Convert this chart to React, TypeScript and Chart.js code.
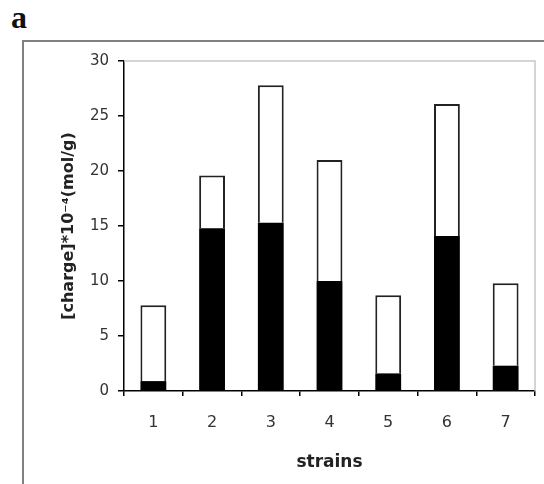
import React, { useEffect, useRef } from "react";
import { Chart, registerables } from "chart.js";

Chart.register(...registerables);

const categories = ["1", "2", "3", "4", "5", "6", "7"];
const blackPart = [0.9, 14.8, 15.3, 10.0, 1.6, 14.1, 2.3];
const whitePart = [6.9, 4.8, 12.5, 11.0, 7.1, 12.0, 7.5];
const yMin = 0;
const yMax = 30;
const yStep = 5;
const xTitle = "strains";
const yTitle = "[charge]*10⁻⁴(mol/g)";

const W = 544;
const H = 484;
const AREA = { left: 124, right: 535, top: 61, bottom: 391 };
const FONT = "'DejaVu Sans', Verdana, sans-serif";

const framePlugin = {
  id: "frameBox",
  beforeDatasetsDraw(chart: any) {
    const { ctx, chartArea } = chart;
    ctx.save();
    ctx.strokeStyle = "#c8c8c8";
    ctx.lineWidth = 1.5;
    ctx.beginPath();
    ctx.moveTo(chartArea.left, chartArea.top);
    ctx.lineTo(chartArea.right, chartArea.top);
    ctx.lineTo(chartArea.right, chartArea.bottom);
    ctx.stroke();
    ctx.restore();
  },
};

export default function App() {
  const ref = useRef<HTMLCanvasElement>(null);
  useEffect(() => {
    document.body.style.margin = "0";
    const chart = new Chart(ref.current!, {
      type: "bar",
      data: {
        labels: categories,
        datasets: [
          {
            data: blackPart,
            backgroundColor: "#000",
            borderColor: "#000",
            borderWidth: 0,
          },
          {
            data: whitePart,
            backgroundColor: "#fff",
            borderColor: "#222",
            borderWidth: 2,
          },
        ],
      },
      options: {
        animation: false,
        responsive: false,
        maintainAspectRatio: false,
        layout: { padding: { left: 0, top: AREA.top, right: W - AREA.right, bottom: 0 } },
        plugins: { legend: { display: false }, tooltip: { enabled: false } },
        datasets: { bar: { categoryPercentage: 1, barPercentage: 0.44 } },
        scales: {
          x: {
            stacked: true,
            afterFit: (s: any) => {
              s.height = H - AREA.bottom;
            },
            border: { display: true, color: "#000", width: 1.5 },
            grid: {
              offset: true,
              drawOnChartArea: false,
              drawTicks: true,
              tickLength: 5,
              color: "#000",
              lineWidth: 1.5,
            },
            ticks: {
              padding: 17,
              color: "#333",
              font: { family: FONT, size: 16 },
              maxRotation: 0,
            },
            title: {
              display: true,
              text: xTitle,
              color: "#222",
              font: { family: FONT, size: 17, weight: "bold" },
              padding: { top: 0, bottom: 11 },
            },
          },
          y: {
            stacked: true,
            min: yMin,
            max: yMax,
            afterFit: (s: any) => {
              s.width = AREA.left;
            },
            border: { display: true, color: "#000", width: 1.5 },
            grid: {
              drawOnChartArea: false,
              drawTicks: true,
              tickLength: 6,
              color: "#000",
              lineWidth: 1.5,
            },
            ticks: {
              stepSize: yStep,
              padding: 9,
              color: "#333",
              font: { family: FONT, size: 15 },
            },
            title: {
              display: true,
              text: yTitle,
              color: "#222",
              font: { family: FONT, size: 16, weight: "bold" },
              padding: { top: 59, bottom: 0 },
            },
          },
        },
      },
      plugins: [framePlugin],
    });
    return () => chart.destroy();
  }, []);

  return (
    <div style={{ position: "relative", width: W, height: H, background: "#fff", overflow: "hidden" }}>
      <div
        style={{
          position: "absolute",
          left: 11,
          top: -3,
          fontFamily: "'Liberation Serif', 'Times New Roman', serif",
          fontWeight: "bold",
          fontSize: 32,
          color: "#111",
          lineHeight: "40px",
        }}
      >
        a
      </div>
      <div
        style={{
          position: "absolute",
          left: 22,
          top: 40,
          width: W,
          height: H,
          borderLeft: "2px solid #808080",
          borderTop: "2px solid #808080",
        }}
      />
      <canvas ref={ref} width={W} height={H} style={{ position: "absolute", left: 0, top: 0 }} />
    </div>
  );
}
